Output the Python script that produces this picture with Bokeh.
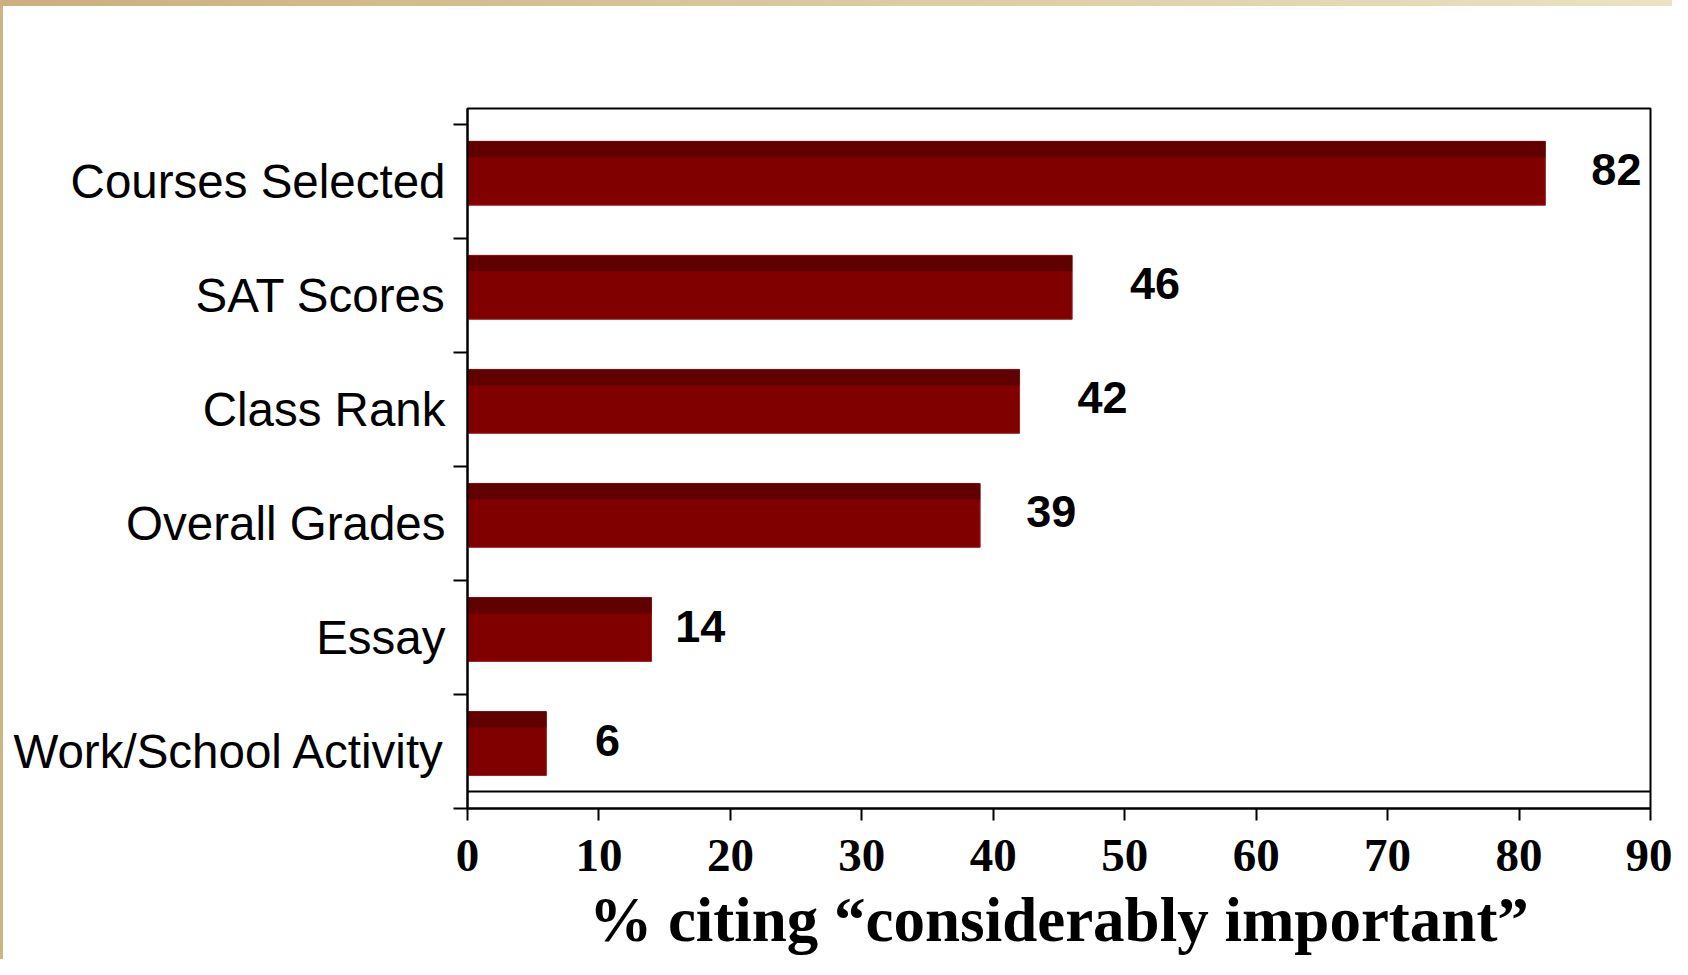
from bokeh.plotting import figure
from bokeh.models import Range1d, FixedTicker, ColumnDataSource, Span
from bokeh.core.properties import value
from bokeh.embed import file_html
from bokeh.resources import INLINE

# ---- data ----
categories = ["Courses Selected", "SAT Scores", "Class Rank",
              "Overall Grades", "Essay", "Work/School Activity"]
percent = [82, 46, 42, 39, 14, 6]
x_ticks = [0, 10, 20, 30, 40, 50, 60, 70, 80, 90]
x_title = "% citing \u201cconsiderably important\u201d"

# ---- styles ----
BAR = "#800000"
BAR_TOP = "#600000"
BAR_EDGE = "#952020"
label_gap = [3.5, 4.4, 4.4, 3.5, 1.8, 3.7]   # gap between bar end and value label (data units)
bar_lift = 0.07       # bars sit slightly above the category centre
label_lift = 0.10
bar_h = 0.56
top_band = 0.14

n = len(categories)
centers = [n - 1 - i + 0.5 for i in range(n)]
bar_y = [c + bar_lift for c in centers]
band_y = [c + bar_lift + bar_h / 2 - top_band / 2 for c in centers]

src = ColumnDataSource(dict(
    cat=categories, val=percent, y=bar_y, band_y=band_y,
    lx=[v + g for v, g in zip(percent, label_gap)],
    ly=[c + label_lift for c in centers],
    txt=[str(v) for v in percent],
))

p = figure(width=1672, height=959, output_backend="svg", toolbar_location=None,
           title=None,
           x_range=Range1d(0, 90), y_range=Range1d(0, 6.138),
           min_border_left=467, min_border_right=22,
           min_border_top=108, min_border_bottom=151)

p.border_fill_color = None
p.background_fill_color = "white"
p.styles = {
    "background": "linear-gradient(to right, #CBAF7C, #EAE2C3) 0 0 / 100% 6px no-repeat, "
                  "linear-gradient(#CDB483, #CDB483) 0 0 / 3px 100% no-repeat, #FFFFFF"
}
p.outline_line_color = "black"
p.outline_line_width = 2
p.grid.visible = False

# bars
p.hbar(y="y", left=0, right="val", height=bar_h, source=src,
       fill_color=BAR, line_color=BAR_EDGE, line_width=1)
p.hbar(y="band_y", left=0, right="val", height=top_band, source=src,
       fill_color=BAR_TOP, line_color=None)

# value labels
p.text(x="lx", y="ly", text="txt", source=src,
       text_font=value("Liberation Sans"), text_font_style="bold",
       text_font_size="45px", text_color="black",
       text_align="left", text_baseline="middle")

# inner bottom line of plot box
p.add_layout(Span(location=0.149, dimension="width", line_color="black", line_width=2))

# x axis
xa = p.xaxis[0]
xa.ticker = FixedTicker(ticks=x_ticks)
xa.axis_line_width = 2
xa.axis_line_color = "black"
xa.major_tick_out = 12
xa.major_tick_in = 0
xa.major_tick_line_width = 2
xa.minor_tick_line_color = None
xa.major_label_text_font = "Liberation Serif"
xa.major_label_text_font_style = "bold"
xa.major_label_text_font_size = "47px"
xa.major_label_text_color = "black"
xa.major_label_standoff = 19
xa.axis_label = x_title
xa.axis_label_text_font = "Liberation Serif"
xa.axis_label_text_font_style = "bold"
xa.axis_label_text_font_size = "63px"
xa.axis_label_text_color = "black"
xa.axis_label_standoff = 11

# y axis
ya = p.yaxis[0]
ya.ticker = FixedTicker(ticks=centers, minor_ticks=list(range(n + 1)))
ya.major_label_overrides = {c: cat for c, cat in zip(centers, categories)}
ya.axis_line_width = 2
ya.axis_line_color = "black"
ya.major_tick_out = 0
ya.major_tick_in = 0
ya.major_tick_line_color = None
ya.minor_tick_out = 14
ya.minor_tick_in = 0
ya.minor_tick_line_width = 2
ya.minor_tick_line_color = "black"
ya.major_label_text_font = "Liberation Sans"
ya.major_label_text_font_size = "47.5px"
ya.major_label_text_color = "black"
ya.major_label_standoff = 8

open("out.html", "w").write(file_html(p, INLINE))
